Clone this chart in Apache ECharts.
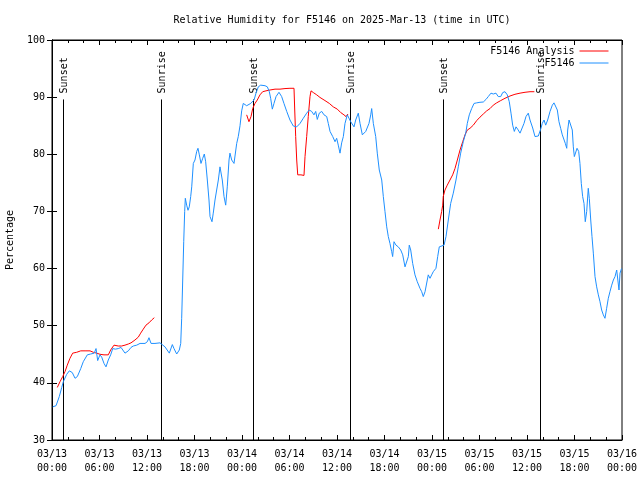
<!DOCTYPE html>
<html>
<head>
<meta charset="utf-8">
<script src="https://cdn.jsdelivr.net/npm/echarts@6/dist/echarts.min.js"></script>
<style>html,body{margin:0;padding:0;background:#fff}#c{width:640px;height:480px}</style>
</head>
<body>
<div id="c"></div>
<script>
// Hours since 2025-03-13 00:00 UTC
const blueHours = [0.09,0.51,0.92,1.23,1.43,1.86,2.19,2.56,2.91,3.20,3.63,3.95,4.46,4.89,5.34,5.56,5.77,6.06,6.28,6.57,6.82,7.11,7.41,7.67,8.00,8.37,8.72,8.93,9.22,9.64,9.98,10.27,10.48,10.70,11.12,11.75,12.04,12.25,12.51,13.01,13.64,13.86,14.27,14.82,15.20,15.41,15.75,16.08,16.26,16.38,16.51,16.64,16.76,16.84,17.01,17.18,17.34,17.52,17.65,17.85,18.06,18.28,18.44,18.61,18.82,19.04,19.24,19.41,19.62,19.83,19.96,20.21,20.37,20.59,20.80,21.01,21.22,21.35,21.51,21.73,21.94,22.14,22.36,22.48,22.70,22.99,23.20,23.33,23.53,23.75,23.96,24.16,24.38,24.59,24.80,25.10,25.35,25.52,25.77,26.06,26.36,26.91,27.20,27.45,27.62,27.83,28.04,28.30,28.67,29.01,29.30,29.65,30.06,30.48,30.91,31.33,31.74,32.17,32.50,32.80,33.09,33.31,33.51,33.76,34.07,34.36,34.70,34.90,35.12,35.46,35.75,35.96,36.16,36.38,36.59,36.80,37.01,37.30,37.52,37.73,37.93,38.15,38.36,38.69,38.91,39.20,39.41,39.63,39.83,40.04,40.26,40.38,40.59,40.89,41.09,41.34,41.65,41.85,42.06,42.28,42.48,42.69,42.91,43.03,43.20,43.45,43.74,44.05,44.30,44.59,44.80,45.01,45.13,45.31,45.56,45.85,46.14,46.48,46.70,46.90,47.12,47.33,47.53,47.75,47.96,48.16,48.50,48.72,48.92,49.10,49.52,49.77,50.06,50.36,50.69,51.03,51.32,51.62,51.95,52.26,52.46,52.71,53.01,53.31,53.65,54.06,54.48,54.82,55.11,55.45,55.74,56.08,56.37,56.68,56.93,57.22,57.51,57.76,57.98,58.19,58.40,58.61,58.82,59.12,59.37,59.62,59.87,60.16,60.38,60.72,61.01,61.43,61.73,61.93,62.15,62.36,62.61,62.91,63.20,63.41,63.63,63.83,64.04,64.26,64.46,64.67,64.84,65.02,65.14,65.31,65.56,65.72,65.85,65.98,66.15,66.32,66.53,66.69,66.86,67.03,67.20,67.36,67.54,67.74,67.87,68.05,68.21,68.38,68.59,68.80,69.01,69.22,69.43,69.64,69.85,70.06,70.27,70.48,70.70,70.91,71.12,71.33,71.49,71.62,71.75,71.94];
const blueValues = [35.8,36.0,37.6,39.2,40.2,41.5,42.1,41.8,40.8,41.1,42.5,43.7,44.9,45.05,45.2,46.0,43.9,44.9,44.5,43.4,42.8,44.0,44.9,46.0,45.9,46.0,46.2,45.9,45.2,45.6,46.2,46.45,46.2,46.6,46.9,46.9,47.2,47.9,46.9,46.9,47.0,46.9,46.3,45.2,46.7,46.0,45.05,45.75,46.9,51.3,58,64.7,70.0,72.3,71.1,70.2,70.8,72.6,74.3,78.4,79,80.5,81.05,79.9,78.4,79.3,80.05,78.7,75.5,72,69.1,68.2,69.7,72,73.75,75.5,77.8,78.1,75.5,72.6,71.1,74.3,79,80.2,79,78.4,78.1,81.9,83.1,85.0,87.6,88.9,88.8,88.5,88.4,88.9,88.6,89.5,90.7,91.8,92.1,92.0,91.8,90.95,89.8,87.9,88.9,90.1,90.85,90.1,88.9,87.5,86.0,84.95,84.8,85.4,86.3,87.2,87.75,87.5,86.9,87.5,86.1,87.2,87.5,86.9,86.6,85.4,84.0,83.1,82.2,82.8,81.6,80.2,82.0,83.1,85.4,86.9,87.2,85.7,86,84.8,86,87.2,85.4,83.4,83.7,84,83.7,85.4,86.9,88.0,85.4,83.1,80.2,77.25,75.5,72.6,70,67.3,65.6,64.4,62.95,62.1,64.7,64.1,63.8,63.25,62.4,60.3,60.05,62.1,64.1,63.25,60.9,58.9,57.7,56.55,55.95,55.1,55.95,56.25,58.9,58.3,58.9,59.45,60.05,62.1,63.8,64.1,64.1,65.6,68.5,71.4,73.2,75.5,77.8,80.2,82.2,83.7,85.4,86.9,88.0,88.9,89.0,89.1,89.15,89.6,90.1,90.7,90.55,90.7,90.1,90.1,90.8,90.95,90.4,89.2,87.2,85.1,84,84.8,84.4,83.7,83.4,85.4,86.6,87.2,86,84.6,83.1,83.2,84.4,85.4,86,85.1,86,87.5,88.6,89.0,88.9,87.75,85.7,84.5,83.4,83.1,81.9,81.05,84.25,86,86,84.25,81.3,79.6,79.3,81.05,80.5,78.4,74.9,72.6,71.4,68.2,70,74.05,72.3,68.5,65.6,62.7,58.6,56.8,55.4,54.2,52.75,51.9,51.3,53.05,54.8,55.95,57.1,58,58.6,59.75,60.05,56.25,59.2,60.0];

const redHours1 = [0.67,1.01,1.35,1.64,1.93,2.27,2.61,3.12,3.63,4.29,4.80,5.22,5.65,6.06,6.57,7.11,7.41,7.83,8.37,8.80,9.22,9.64,9.98,10.48,10.90,11.20,11.53,11.87,12.25,12.59,12.92];
const redValues1 = [39.2,40.2,41.1,41.95,43.1,44.3,45.2,45.35,45.6,45.6,45.6,45.35,45.2,45.0,44.9,44.9,45.75,46.6,46.45,46.45,46.6,46.8,47.0,47.5,48.0,48.7,49.4,50.1,50.5,51.0,51.4];
const redHours2 = [24.59,24.88,25.14,25.35,25.64,25.93,26.27,26.61,27.03,27.54,28.17,28.80,29.43,30.06,30.57,30.66,30.78,30.91,31.04,31.45,31.83,31.96,32.17,32.37,32.59,32.72,33.01,33.44,33.85,34.48,35.03,35.53,36.04,36.47,36.88,37.14,37.39];
const redValues2 = [86.9,85.7,86.6,88.0,88.9,89.5,90.4,90.95,91.1,91.25,91.4,91.4,91.5,91.55,91.55,87.75,83.1,79,76.4,76.4,76.3,79.6,83.1,86.6,90.1,91.1,90.8,90.4,89.95,89.4,88.9,88.3,87.9,87.3,86.9,86.6,87.05];
const redHours3 = [48.80,49.01,49.22,49.35,49.42,49.64,49.93,50.27,50.61,50.90,51.20,51.54,51.88,52.17,52.46,52.80,53.22,53.65,54.06,54.48,54.91,55.33,55.74,56.17,56.68,57.22,57.85,58.48,59.12,59.75,60.38,60.93];
const redValues3 = [66.9,68.5,70,71.1,72.6,73.75,74.6,75.5,76.4,77.5,79,80.75,82.2,83.4,84.25,84.55,85.1,85.9,86.5,87.05,87.6,88,88.6,89.0,89.4,89.8,90.2,90.5,90.7,90.85,90.95,90.95];

const sunHours = [1.43,13.81,25.43,37.68,49.42,61.68];
const sunLabels = ['Sunset','Sunrise','Sunset','Sunrise','Sunset','Sunrise'];
const sunLineTop = 89.6;

const xTickStep = 6;
const yTicks = [30,40,50,60,70,80,90,100];

const FONT = 'DejaVu Sans Mono';
const zip = (a, b) => a.map((v, i) => [v, b[i]]);

function fmtX(h) {
  const day = 13 + Math.floor(h / 24);
  const hr = Math.round(h % 24);
  return '03/' + String(day).padStart(2, '0') + '\n' + String(hr).padStart(2, '0') + ':00';
}

const chart = echarts.init(document.getElementById('c'), null, {renderer: 'canvas'});
const redStyle = {type: 'line', name: 'F5146 Analysis', symbol: 'none', showSymbol: false,
  lineStyle: {color: '#ff0000', width: 1}, itemStyle: {color: '#ff0000'}, z: 3, animation: false};

chart.setOption({
  animation: false,
  backgroundColor: '#ffffff',
  textStyle: {fontFamily: FONT, fontSize: 10, color: '#000'},
  title: {text: 'Relative Humidity for F5146 on 2025-Mar-13 (time in UTC)', left: 337, top: 10, textAlign: 'center',
    textStyle: {fontFamily: FONT, fontSize: 10, fontWeight: 'normal', color: '#000'}},
  legend: {orient: 'vertical', right: 26, top: 41, align: 'right', itemWidth: 29, itemHeight: 11, itemGap: 2,
    itemStyle: {opacity: 0},
    lineStyle: {width: 1},
    data: ['F5146 Analysis', 'F5146'],
    textStyle: {fontFamily: FONT, fontSize: 10, color: '#000'}},
  grid: {left: 52, right: 18, top: 40, bottom: 40, show: true, borderColor: '#000', borderWidth: 1,
    containLabel: false, outerBoundsMode: 'none'},
  xAxis: [{
    type: 'value', min: 0, max: 72, interval: xTickStep,
    axisLine: {show: true, lineStyle: {color: '#000', width: 1}},
    axisTick: {show: true, inside: true, length: 5, lineStyle: {color: '#000'}},
    minorTick: {show: true, splitNumber: 3, length: 3, lineStyle: {color: '#000'}},
    splitLine: {show: false},
    axisLabel: {formatter: fmtX, fontFamily: FONT, fontSize: 10, color: '#000', lineHeight: 14, margin: 7}
  }, {
    type: 'value', min: 0, max: 72, interval: xTickStep, position: 'top',
    axisLine: {show: true, lineStyle: {color: '#000', width: 1}},
    axisTick: {show: true, inside: true, length: 5, lineStyle: {color: '#000'}},
    minorTick: {show: true, splitNumber: 3, length: 3, lineStyle: {color: '#000'}},
    splitLine: {show: false}, axisLabel: {show: false}
  }],
  yAxis: [{
    type: 'value', min: yTicks[0], max: yTicks[yTicks.length - 1], interval: 10,
    name: 'Percentage', nameLocation: 'middle', nameRotate: 90, nameGap: 37,
    nameTextStyle: {fontFamily: FONT, fontSize: 10, color: '#000'},
    axisLine: {show: true, lineStyle: {color: '#000', width: 1}},
    axisTick: {show: true, inside: true, length: 5, lineStyle: {color: '#000'}},
    splitLine: {show: false},
    axisLabel: {fontFamily: FONT, fontSize: 10, color: '#000', margin: 7}
  }, {
    type: 'value', min: yTicks[0], max: yTicks[yTicks.length - 1], interval: 10, position: 'right',
    axisLine: {show: true, lineStyle: {color: '#000', width: 1}},
    axisTick: {show: true, inside: true, length: 5, lineStyle: {color: '#000'}},
    splitLine: {show: false}, axisLabel: {show: false}
  }],
  series: [
    {
      type: 'custom', name: 'sun', silent: true, z: 1,
      data: sunHours.map((h, i) => [h, i]),
      renderItem: function (params, api) {
        const h = api.value(0);
        const lbl = sunLabels[api.value(1)];
        const top = api.coord([h, sunLineTop]);
        const bot = api.coord([h, 30]);
        const x = Math.round(top[0]) + 0.5;
        return {type: 'group', children: [
          {type: 'line', shape: {x1: x, y1: top[1], x2: x, y2: bot[1]}, style: {stroke: '#000', lineWidth: 1}},
          {type: 'text', x: x + 1, y: top[1] - 6, rotation: Math.PI / 2,
            style: {text: lbl, font: '10px ' + FONT, fill: '#000', align: 'left', verticalAlign: 'middle'}}
        ]};
      }
    },
    Object.assign({data: zip(redHours1, redValues1)}, redStyle),
    Object.assign({data: zip(redHours2, redValues2)}, redStyle),
    Object.assign({data: zip(redHours3, redValues3)}, redStyle),
    {type: 'line', name: 'F5146', symbol: 'none', showSymbol: false, data: zip(blueHours, blueValues),
      lineStyle: {color: '#1e90ff', width: 1}, itemStyle: {color: '#1e90ff'}, z: 4}
  ]
});
</script>
</body>
</html>
